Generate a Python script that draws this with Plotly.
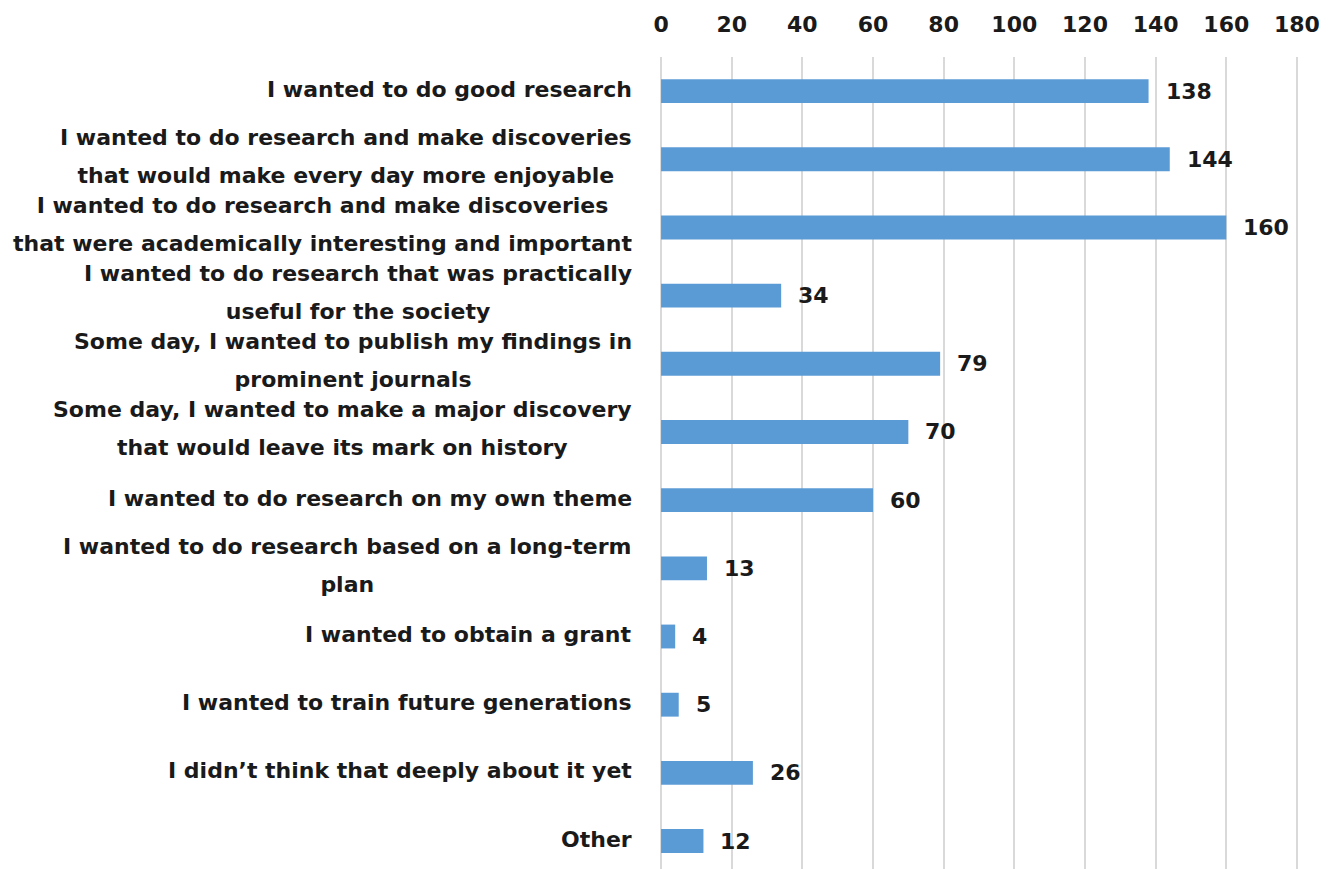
import plotly.graph_objects as go

categories = [
    "I wanted to do good research",
    "I wanted to do research and make discoveries<br>that would make every day more enjoyable",
    "I wanted to do research and make discoveries<br>that were academically interesting and important",
    "I wanted to do research that was practically<br>useful for the society",
    "Some day, I wanted to publish my findings in<br>prominent journals",
    "Some day, I wanted to make a major discovery<br>that would leave its mark on history",
    "I wanted to do research on my own theme",
    "I wanted to do research based on a long-term<br>plan",
    "I wanted to obtain a grant",
    "I wanted to train future generations",
    "I didn\u2019t think that deeply about it yet",
    "Other",
]
values = [138, 144, 160, 34, 79, 70, 60, 13, 4, 5, 26, 12]
x_ticks = [0, 20, 40, 60, 80, 100, 120, 140, 160, 180]

FONT = "DejaVu Sans"
TXT = "#1a1a1a"
FS = 22

positions = list(range(len(categories)))

fig = go.Figure(
    go.Bar(
        x=values,
        y=positions,
        orientation="h",
        marker=dict(color="#5B9BD5", line=dict(width=0)),
        width=0.35,
        hoverinfo="skip",
    )
)

annotations = []
for i, (cat, v) in enumerate(zip(categories, values)):
    if "<br>" in cat:
        lines = cat.split("<br>")
        text = "<br>".join(f"<span style='font-size:{FS}px'><b>{l}</b></span>" for l in lines)
        annotations.append(dict(
            xref="paper", yref="y", x=0, y=i, xanchor="right", yanchor="middle",
            xshift=-26, yshift=3, text=text, align="center", showarrow=False,
            font=dict(family=FONT, size=29, color=TXT),
        ))
    else:
        annotations.append(dict(
            xref="paper", yref="y", x=0, y=i, xanchor="right", yanchor="middle",
            xshift=-26, yshift=2, text=f"<b>{cat}</b>", align="right", showarrow=False,
            font=dict(family=FONT, size=FS, color=TXT),
        ))
    annotations.append(dict(
        xref="x", yref="y", x=v, y=i, xanchor="left", yanchor="middle",
        xshift=15, text=f"<b>{v}</b>", showarrow=False,
        font=dict(family=FONT, size=FS, color=TXT),
    ))

fig.update_layout(
    width=1329, height=861,
    margin=dict(l=652, r=39, t=49, b=0),
    paper_bgcolor="white", plot_bgcolor="white",
    showlegend=False,
    annotations=annotations,
    xaxis=dict(
        side="top", range=[-0.3, 180.3], tickvals=x_ticks,
        ticktext=[f"<b>{t}</b>" for t in x_ticks],
        showgrid=True, gridcolor="#D9D9D9", gridwidth=2, zeroline=False,
        showline=False, ticks="", ticklabelstandoff=20,
        tickfont=dict(family=FONT, size=FS, color=TXT),
    ),
    yaxis=dict(
        range=[11.41, -0.5], showticklabels=False, showgrid=False,
        zeroline=False, showline=False, ticks="",
    ),
)

fig.write_html("out.html")
